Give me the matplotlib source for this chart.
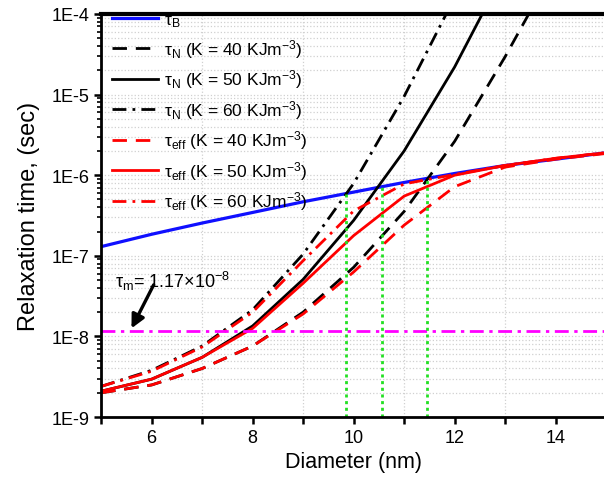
"""
Tempos de relaxacao (Brown, Neel e efetivo) em funcao do diametro
"""

import numpy as np
import matplotlib
matplotlib.use('Agg')
import matplotlib.pyplot as plt
from matplotlib.ticker import LogLocator, FixedLocator, NullFormatter, FuncFormatter

# dados (diametro em nm, tempos em s)
diam = [5, 6, 7, 8, 9, 10, 11, 12, 13, 14, 15]

tau_B = [1.3e-7, 1.85e-7, 2.55e-7, 3.45e-7, 4.68e-7, 6.17e-7,
         8.13e-7, 1.05e-6, 1.32e-6, 1.58e-6, 1.9e-6]

tau_N40 = [2.0e-9, 2.5e-9, 4.0e-9, 7.6e-9, 2.0e-8, 7.2e-8,
           3.55e-7, 2.63e-6, 2.95e-5, 4.0e-4]
tau_N50 = [2.09e-9, 2.95e-9, 5.5e-9, 1.35e-8, 5.1e-8, 2.75e-7,
           2.0e-6, 2.2e-5, 3.5e-4]
tau_N60 = [2.4e-9, 3.8e-9, 7.6e-9, 2.14e-8, 1.05e-7, 7.9e-7,
           9.5e-6, 1.6e-4]

tau_eff40 = [2.0e-9, 2.5e-9, 4.0e-9, 7.6e-9, 1.9e-8, 6.3e-8,
             2.4e-7, 7.2e-7, 1.26e-6, 1.58e-6, 1.86e-6]
tau_eff50 = [2.09e-9, 2.95e-9, 5.5e-9, 1.26e-8, 4.57e-8, 1.78e-7,
             5.5e-7, 1.0e-6, 1.32e-6, 1.62e-6, 1.9e-6]
tau_eff60 = [2.4e-9, 3.7e-9, 7.4e-9, 2.0e-8, 8.7e-8, 3.6e-7,
             7.8e-7, 1.02e-6, 1.32e-6, 1.62e-6, 1.9e-6]

tau_m = 1.17e-8
# diametros onde tau_N cruza tau_B (linhas verdes)
d_cross = [9.85, 10.56, 11.46]

ytick_vals = [1e-9, 1e-8, 1e-7, 1e-6, 1e-5, 1e-4]
ytick_labels = ['1E-9', '1E-8', '1E-7', '1E-6', '1E-5', '1E-4']
xtick_vals = [6, 8, 10, 12, 14]

plt.rcParams['font.family'] = ['Liberation Sans', 'DejaVu Sans']
plt.rcParams['mathtext.fontset'] = 'custom'
plt.rcParams['mathtext.rm'] = 'Liberation Sans'
plt.rcParams['mathtext.it'] = 'Liberation Sans:italic'

DASH = (0, (5.2, 3.2))
DASHDOT = (0, (5.0, 2.2, 1.0, 2.2))
LW = 2.0

fig = plt.figure(figsize=(6.04, 4.85), dpi=100)
ax = fig.add_axes([0.1675, 0.1381, 0.836, 0.831])

ax.plot(diam, tau_B, color='#1010ff', lw=2.3, label='τ$_\\mathrm{B}$')
ax.plot(diam[:len(tau_N40)], tau_N40, color='k', lw=LW, ls=DASH,
        label='τ$_\\mathrm{N}$ (K = 40 KJm$^{-3}$)')
ax.plot(diam[:len(tau_N50)], tau_N50, color='k', lw=LW,
        label='τ$_\\mathrm{N}$ (K = 50 KJm$^{-3}$)')
ax.plot(diam[:len(tau_N60)], tau_N60, color='k', lw=LW, ls=DASHDOT,
        label='τ$_\\mathrm{N}$ (K = 60 KJm$^{-3}$)')
ax.plot(diam, tau_eff40, color='#ff0000', lw=LW, ls=DASH,
        label='τ$_\\mathrm{eff}$ (K = 40 KJm$^{-3}$)')
ax.plot(diam, tau_eff50, color='#ff0000', lw=LW,
        label='τ$_\\mathrm{eff}$ (K = 50 KJm$^{-3}$)')
ax.plot(diam, tau_eff60, color='#ff0000', lw=LW, ls=DASHDOT,
        label='τ$_\\mathrm{eff}$ (K = 60 KJm$^{-3}$)')

# linha de tau_m
ax.axhline(tau_m, color='#ff00ff', lw=2.0, ls=(0, (5, 2, 1.2, 2)))

# linhas verdes ate a curva de Brown
log_tb = np.log10(tau_B)
for d in d_cross:
    top = 10 ** np.interp(d, diam, log_tb)
    ax.plot([d, d], [1e-9, top], color='#22e022', lw=2.0, ls=(0, (1.1, 1.3)))

ax.text(5.27, 10 ** -7.39, 'τ$_\\mathrm{m}$= 1.17×10$^{-8}$', fontsize=13,
        va='baseline', ha='left')
ax.annotate('', xy=(5.6, 10 ** -7.9), xytext=(6.04, 10 ** -7.36),
            arrowprops=dict(arrowstyle='-|>', color='k', lw=2.4,
                            mutation_scale=20, shrinkA=0, shrinkB=0))

ax.set_xlim(5, 15)
ax.set_yscale('log')
ax.set_ylim(1e-9, 1e-4)

ax.xaxis.set_major_locator(FixedLocator(xtick_vals))
ax.xaxis.set_minor_locator(FixedLocator(diam))
ax.yaxis.set_major_locator(FixedLocator(ytick_vals))
ax.yaxis.set_major_formatter(FuncFormatter(
    lambda v, p: ytick_labels[ytick_vals.index(v)] if v in ytick_vals else ''))
ax.yaxis.set_minor_locator(LogLocator(base=10, subs=np.arange(2, 10)))
ax.yaxis.set_minor_formatter(NullFormatter())

ax.grid(which='minor', axis='x', color='#d0d0d0', ls=':', lw=0.9)
ax.grid(which='both', axis='y', color='#d0d0d0', ls=':', lw=0.9)
ax.set_axisbelow(True)

ax.tick_params(axis='both', which='major', direction='out', length=5,
               width=1.8, labelsize=13)
ax.tick_params(axis='x', which='minor', direction='out', length=5, width=1.8)
ax.tick_params(axis='y', which='minor', direction='out', length=3, width=1.2)
for s in ax.spines.values():
    s.set_linewidth(2)
ax.spines['top'].set_linewidth(3)

ax.set_xlabel('Diameter (nm)', fontsize=15.5, labelpad=4)
ax.set_ylabel('Relaxation time, (sec)', fontsize=17, labelpad=8)

leg = ax.legend(loc='upper left', bbox_to_anchor=(0.0, 1.03), frameon=False,
                fontsize=12.5, handlelength=2.7, handletextpad=0.3,
                labelspacing=0.44, borderaxespad=0.2)

fig.savefig('out.png', dpi=100)
